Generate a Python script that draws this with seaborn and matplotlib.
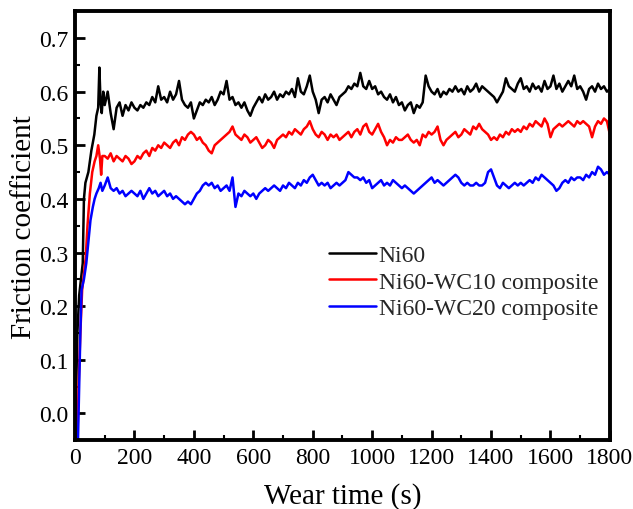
import numpy as np
import pandas as pd
import matplotlib
matplotlib.use("Agg")
import matplotlib.pyplot as plt
import seaborn as sns
from matplotlib.ticker import MultipleLocator

# time grid for the steady part (s)
plateau_t = np.arange(100, 1801, 10)

# run-in part, read point by point
ni60_ramp_t = [0, 4, 8, 14, 20, 26, 30, 35, 45, 55, 65, 72, 78, 82, 86, 90, 95]
ni60_ramp = [-0.05, 0.05, 0.15, 0.22, 0.25, 0.28, 0.40, 0.43, 0.45, 0.49, 0.52, 0.555, 0.57, 0.645, 0.58, 0.56, 0.60]

wc10_ramp_t = [8, 12, 18, 24, 30, 36, 42, 50, 58, 66, 72, 78, 84, 88, 92]
wc10_ramp = [-0.05, 0.05, 0.15, 0.23, 0.26, 0.29, 0.35, 0.41, 0.45, 0.47, 0.48, 0.50, 0.475, 0.445, 0.48]

wc20_ramp_t = [10, 14, 18, 22, 30, 38, 45, 52, 60, 66, 72, 80, 86, 92]
wc20_ramp = [-0.05, 0.05, 0.15, 0.23, 0.25, 0.28, 0.32, 0.36, 0.385, 0.40, 0.41, 0.42, 0.43, 0.415]

ni60 = [
    0.575, 0.60, 0.56, 0.53, 0.57, 0.58, 0.555, 0.575, 0.565, 0.58,
    0.57, 0.565, 0.575, 0.57, 0.58, 0.575, 0.59, 0.58, 0.61, 0.585,
    0.59, 0.58, 0.60, 0.585, 0.595, 0.62, 0.585, 0.575, 0.57, 0.58,
    0.55, 0.565, 0.58, 0.575, 0.585, 0.58, 0.59, 0.575, 0.585, 0.60,
    0.595, 0.62, 0.585, 0.59, 0.575, 0.58, 0.57, 0.58, 0.565, 0.555,
    0.57, 0.58, 0.59, 0.58, 0.595, 0.585, 0.59, 0.60, 0.585, 0.595,
    0.59, 0.60, 0.595, 0.605, 0.59, 0.625, 0.60, 0.595, 0.61, 0.63,
    0.60, 0.585, 0.56, 0.585, 0.59, 0.58, 0.595, 0.585, 0.575, 0.59,
    0.595, 0.60, 0.61, 0.605, 0.615, 0.61, 0.635, 0.61, 0.605, 0.62,
    0.605, 0.61, 0.595, 0.60, 0.59, 0.585, 0.595, 0.58, 0.59, 0.575,
    0.58, 0.565, 0.575, 0.58, 0.56, 0.575, 0.57, 0.58, 0.63, 0.61,
    0.60, 0.595, 0.605, 0.59, 0.60, 0.595, 0.605, 0.60, 0.61, 0.60,
    0.605, 0.595, 0.61, 0.60, 0.605, 0.615, 0.60, 0.61, 0.605, 0.60,
    0.595, 0.59, 0.58, 0.59, 0.60, 0.625, 0.61, 0.605, 0.60, 0.615,
    0.625, 0.605, 0.61, 0.60, 0.615, 0.605, 0.61, 0.60, 0.62, 0.605,
    0.61, 0.63, 0.605, 0.615, 0.60, 0.61, 0.62, 0.61, 0.63, 0.605,
    0.61, 0.60, 0.585, 0.605, 0.61, 0.60, 0.615, 0.605, 0.61, 0.60,
    0.605,
]

wc10 = [
    0.48, 0.475, 0.485, 0.47, 0.48, 0.475, 0.47, 0.48, 0.475, 0.465,
    0.47, 0.48, 0.475, 0.485, 0.49, 0.48, 0.495, 0.49, 0.50, 0.495,
    0.505, 0.50, 0.495, 0.505, 0.51, 0.50, 0.515, 0.51, 0.52, 0.525,
    0.52, 0.51, 0.515, 0.505, 0.50, 0.49, 0.485, 0.50, 0.505, 0.51,
    0.515, 0.52, 0.525, 0.535, 0.52, 0.515, 0.51, 0.52, 0.515, 0.505,
    0.51, 0.515, 0.505, 0.495, 0.50, 0.51, 0.505, 0.495, 0.51, 0.515,
    0.52, 0.515, 0.525, 0.52, 0.53, 0.525, 0.52, 0.53, 0.535, 0.545,
    0.53, 0.52, 0.515, 0.525, 0.52, 0.51, 0.52, 0.515, 0.52, 0.51,
    0.515, 0.52, 0.525, 0.515, 0.525, 0.53, 0.52, 0.535, 0.54, 0.525,
    0.52, 0.53, 0.54, 0.525, 0.515, 0.50, 0.51, 0.505, 0.515, 0.51,
    0.51, 0.515, 0.52, 0.51, 0.505, 0.51, 0.50, 0.52, 0.515, 0.525,
    0.52, 0.525, 0.535, 0.51, 0.50, 0.51, 0.515, 0.52, 0.525, 0.515,
    0.52, 0.53, 0.525, 0.52, 0.535, 0.53, 0.54, 0.53, 0.525, 0.52,
    0.51, 0.515, 0.51, 0.52, 0.515, 0.525, 0.52, 0.53, 0.525, 0.53,
    0.525, 0.535, 0.53, 0.54, 0.535, 0.545, 0.54, 0.535, 0.55, 0.54,
    0.515, 0.53, 0.535, 0.54, 0.535, 0.54, 0.545, 0.54, 0.535, 0.545,
    0.54, 0.545, 0.54, 0.535, 0.515, 0.535, 0.545, 0.54, 0.55, 0.545,
    0.52,
]

wc20 = [
    0.425, 0.44, 0.42, 0.415, 0.42, 0.41, 0.415, 0.405, 0.41, 0.415,
    0.41, 0.405, 0.415, 0.40, 0.41, 0.42, 0.41, 0.415, 0.405, 0.41,
    0.415, 0.405, 0.41, 0.40, 0.405, 0.40, 0.395, 0.39, 0.395, 0.39,
    0.40, 0.41, 0.415, 0.425, 0.43, 0.425, 0.43, 0.42, 0.425, 0.415,
    0.42, 0.425, 0.415, 0.44, 0.385, 0.41, 0.405, 0.415, 0.41, 0.405,
    0.41, 0.40, 0.41, 0.415, 0.42, 0.415, 0.42, 0.425, 0.42, 0.415,
    0.425, 0.42, 0.43, 0.425, 0.42, 0.43, 0.425, 0.435, 0.43, 0.44,
    0.445, 0.435, 0.425, 0.43, 0.425, 0.43, 0.42, 0.425, 0.43, 0.425,
    0.43, 0.435, 0.45, 0.445, 0.44, 0.44, 0.435, 0.44, 0.43, 0.435,
    0.42, 0.425, 0.43, 0.435, 0.425, 0.43, 0.425, 0.435, 0.43, 0.425,
    0.42, 0.425, 0.42, 0.415, 0.41, 0.415, 0.42, 0.425, 0.43, 0.435,
    0.44, 0.43, 0.435, 0.43, 0.425, 0.43, 0.435, 0.44, 0.445, 0.44,
    0.43, 0.425, 0.43, 0.425, 0.425, 0.43, 0.425, 0.425, 0.43, 0.45,
    0.455, 0.44, 0.425, 0.42, 0.43, 0.425, 0.42, 0.425, 0.43, 0.425,
    0.43, 0.425, 0.43, 0.435, 0.43, 0.44, 0.435, 0.445, 0.44, 0.435,
    0.43, 0.425, 0.415, 0.42, 0.43, 0.435, 0.43, 0.44, 0.435, 0.44,
    0.44, 0.435, 0.445, 0.44, 0.45, 0.445, 0.46, 0.455, 0.445, 0.45,
    0.445,
]

labels = ["Ni60", "Ni60-WC10 composite", "Ni60-WC20 composite"]
colors = ["black", "red", "blue"]

frames = []
for lab, rt, rv, pv in [(labels[0], ni60_ramp_t, ni60_ramp, ni60),
                        (labels[1], wc10_ramp_t, wc10_ramp, wc10),
                        (labels[2], wc20_ramp_t, wc20_ramp, wc20)]:
    t = list(rt) + list(plateau_t)
    v = list(rv) + list(pv)
    frames.append(pd.DataFrame({"time": t, "cof": v, "sample": lab}))
df = pd.concat(frames, ignore_index=True)

sns.set_style("ticks")
plt.rcParams["font.family"] = ["Liberation Serif", "DejaVu Serif"]

fig = plt.figure(figsize=(6.33, 5.10), dpi=100)
ax = fig.add_axes([0.1185, 0.135, 0.845, 0.841])

sns.lineplot(data=df, x="time", y="cof", hue="sample", palette=colors,
             hue_order=labels, sort=False, estimator=None, linewidth=1.8, ax=ax)

ax.set_xlim(0, 1800)
ax.set_ylim(-0.05, 0.75)
ax.xaxis.set_major_locator(MultipleLocator(200))
ax.xaxis.set_minor_locator(MultipleLocator(100))
ax.yaxis.set_minor_locator(MultipleLocator(0.05))
ax.set_yticks(np.arange(0, 0.71, 0.1))
ax.set_yticklabels([f"{v:.1f}" for v in np.arange(0, 0.71, 0.1)])

ax.tick_params(which="major", direction="in", length=7, width=2, labelsize=17,
               pad=5, color="black", labelcolor="black")
ax.tick_params(which="minor", direction="in", length=3.5, width=1.5, color="black")
for s in ax.spines.values():
    s.set_linewidth(2.8)
    s.set_edgecolor("black")

ax.set_xlabel("Wear time (s)", fontsize=21, labelpad=10, color="black")
ax.set_ylabel("Friction coefficient", fontsize=21, labelpad=1, color="black")

ax.legend(loc="upper left", bbox_to_anchor=(0.435, 0.505), frameon=False,
          fontsize=17, handlelength=2.0, handletextpad=0.1, labelspacing=0.2)

fig.savefig("out.png", dpi=100)
